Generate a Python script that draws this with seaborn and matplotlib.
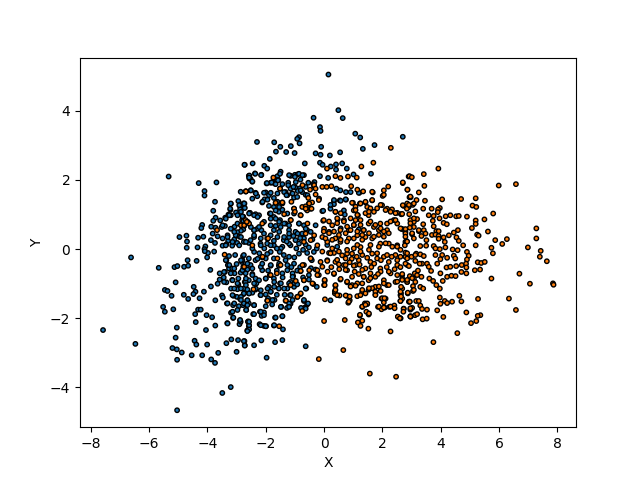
import numpy as np
import pandas as pd
import matplotlib
matplotlib.use("Agg")
import matplotlib.pyplot as plt
import seaborn as sns

# values, (x, y)
blue_points = [
(-5.33,2.10),(-4.30,1.91),(-3.69,1.93),(-4.10,1.68),(-4.10,1.55),(-3.74,1.37),(-3.80,1.11),(-2.72,2.44),(-2.58,2.12),(-2.56,2.04),
(-2.86,1.66),(-3.20,1.31),(-2.94,1.39),(-2.73,1.32),(-2.88,1.24),(-2.73,1.20),(-2.88,1.15),(-3.21,1.14),(-3.02,1.06),(-2.56,1.05),
(-3.28,1.00),(-3.20,0.98),(-3.39,0.91),(-3.72,0.91),(-3.80,0.82),(-3.56,0.83),(-2.77,0.94),(-2.81,0.84),(-4.18,0.70),(-4.21,0.61),
(-3.87,0.65),(-3.72,0.62),(-3.51,0.64),(-3.40,0.67),(-3.07,0.65),(-2.77,0.57),(-2.85,0.53),(-2.98,0.49),(-3.82,0.45),(-3.65,0.37),
(-4.96,0.35),(-4.72,0.39),(-4.70,0.22),(-4.71,0.04),(-4.32,0.33),(-4.14,0.36),(-3.88,0.26),(-3.74,0.18),(-3.31,0.40),(-3.29,0.24),
(-3.35,0.14),(-3.48,0.10),(-3.03,0.40),(-2.90,0.36),(-3.08,0.28),(-2.98,0.18),(-2.73,0.22),(-2.58,0.18),(-3.15,0.10),(-4.07,0.08),
(-4.34,0.05),(-4.10,0.00),
(-6.62,-0.24),(-5.67,-0.54),(-5.13,-0.52),(-5.03,-0.49),(-4.80,-0.51),(-4.66,-0.48),(-4.68,-0.32),(-4.37,-0.34),(-3.90,-0.60),(-5.09,-0.96),
(-4.47,-1.09),(-4.41,-1.23),(-4.48,-1.30),(-4.12,-1.23),(-3.88,-1.08),(-3.65,-1.00),(-5.46,-1.18),(-5.37,-1.21),(-5.23,-1.35),(-4.81,-1.32),
(-4.66,-1.44),(-4.27,-1.42),(-3.73,-1.48),(-3.50,-1.34),(-3.47,-1.40),(-3.33,-1.57),(-5.52,-1.67),(-5.46,-1.81),(-5.17,-1.74),(-4.32,-1.75),
(-4.23,-1.75),(-4.42,-1.88),(-4.03,-1.91),(-3.84,-1.97),(-4.40,-2.11),(-3.73,-2.21),(-3.32,-2.14),(-5.05,-2.27),(-4.05,-2.34),(-7.58,-2.34),
(-6.47,-2.74),(-5.09,-2.56),(-4.44,-2.65),(-4.38,-2.76),(-4.01,-2.76),(-5.20,-2.86),(-5.05,-2.90),(-4.88,-2.99),(-5.04,-3.20),(-4.54,-3.07),
(-4.18,-3.07),(-3.63,-3.00),(-3.87,-3.19),(-3.74,-3.29),(-3.35,-2.72),(-3.18,-2.61),(-2.95,-2.63),(-2.73,-2.66),(-2.72,-2.78),(-3.00,-2.97),
(-3.20,-3.99),(-3.49,-4.16),(-5.04,-4.66),(-2.88,-2.06),(-2.90,-2.17),(-2.60,-2.09),(-2.58,-2.23),(-2.63,-2.35),(-3.12,-1.99),(-3.19,-1.84),
(-3.12,-1.62),(-2.92,-1.65),(-2.67,-1.76),(-2.99,-1.38),(-2.76,-1.30),(-2.88,-1.44),(-2.63,-1.48),(-2.78,-1.62),(-2.58,-1.57),(-3.19,-1.14),
(-2.97,-1.16),(-2.75,-1.14),(-2.58,-1.28),(-3.11,-1.35),(-3.35,-0.96),(-3.15,-0.89),(-2.94,-1.02),(-2.72,-0.95),(-2.58,-0.90),(-2.94,-0.85),
(-3.58,-0.70),(-3.40,-0.66),(-3.44,-0.82),(-3.58,-0.88),(-3.07,-0.70),(-2.86,-0.68),(-2.63,-0.59),(-3.26,-0.56),(-3.35,-0.32),(-3.30,-0.46),
(-3.15,-0.56),(-3.00,-0.43),(-2.82,-0.37),(-2.63,-0.42),(-2.78,-0.20),(-2.58,-0.27),(-3.05,-0.17),(-3.26,-0.20),(-4.01,-0.24),(-3.98,-0.11),
(-3.77,-0.07),(-4.09,-0.06),
(0.15,5.05),(0.49,4.02),(0.64,3.79),(-0.36,3.80),(-0.14,3.53),(-0.12,3.42),(1.07,3.34),(1.24,3.23),(2.70,3.25),(1.73,3.01),
(1.33,2.90),(0.55,2.80),(0.20,2.71),(-0.10,2.96),(-0.12,2.73),(-0.29,2.77),(-2.30,3.10),(-1.71,3.09),(-1.50,2.96),(-1.65,2.82),
(-1.30,2.81),(-1.14,2.98),(-1.01,2.78),(-0.86,3.24),(-0.92,3.19),(-0.84,3.06),(-1.86,2.61),(-0.66,2.48),(-2.73,2.44),(-2.45,2.48),
(-2.05,2.41),(-1.95,2.33),(-0.14,2.50),(-0.05,2.44),(0.23,2.39),(0.41,2.45),(0.62,2.48),(0.41,2.30),(0.78,2.33),(-2.56,2.13),
(-2.37,2.19),(-2.52,2.03),(-2.46,1.95),(-2.15,2.15),(-1.49,2.24),(-1.60,2.11),(-1.57,2.00),(-1.15,2.12),(-1.00,2.15),(-0.91,2.16),
(-0.69,2.14),(-0.81,2.01),(-0.14,2.11),(0.14,2.06),(1.01,2.16),(1.61,2.18),(-1.97,1.90),(-1.83,1.92),(-1.70,1.90),(-1.43,1.88),
(-1.23,1.92),(-0.97,1.94),(-0.54,1.92),(-0.33,1.94),(-0.37,1.88),(-2.52,1.70),(-2.35,1.63),(-2.29,1.53),(-2.00,1.64),(-1.89,1.56),
(-1.72,1.48),(-2.04,1.44),(-2.12,1.35),(-1.32,1.65),(-1.15,1.75),(-0.98,1.78),(-0.83,1.76),(-0.63,1.80),(-1.26,1.56),(-1.09,1.61),
(-0.90,1.68),(-0.75,1.65),(-0.63,1.57),(-1.03,1.49),(-0.92,1.51),(0.42,1.75),(0.56,1.70),(0.75,1.65),(0.91,1.65),(1.21,1.63),
(0.34,1.39),(0.54,1.41),(0.75,1.43),(0.22,1.17),(0.34,1.30),(-0.06,1.10),(0.68,1.12),(0.71,1.00),
(-2.77,1.32),(-2.72,1.19),(-2.80,0.95),(-2.54,1.05),(-2.35,1.01),(-2.23,0.98),(-2.40,0.55),(-2.29,0.59),(-2.15,0.55),(-2.52,0.26),
(-2.75,0.21),(-2.77,0.81),(-2.40,0.35),(-2.06,0.45),(-1.72,1.22),(-1.89,1.25),(-1.60,1.37),(-1.86,1.03),(-1.55,1.08),(-1.43,1.14),
(-1.72,0.93),(-1.51,0.84),(-1.83,0.69),(-1.66,0.67),(-1.49,0.64),(-1.32,0.74),(-1.03,1.17),(-1.03,1.03),(-0.86,0.74),(-0.69,0.69),
(-1.20,0.55),(-0.98,0.50),(-0.75,0.45),(-1.60,0.35),(-1.38,0.26),(-1.20,0.35),(-2.18,0.16),(-1.95,0.16),(-1.72,0.11),(-1.43,0.07),
(-1.15,0.11),(-0.86,0.16),(-0.63,0.13),(-0.40,0.28),(-0.98,0.26),(-1.72,0.55),(-0.58,0.55),
(-1.97,-3.14),(-0.63,-2.81),(-1.43,-2.63),(-1.68,-2.69),(-2.15,-2.64),(-2.40,-2.78),(-2.75,-2.66),(-2.72,-2.79),(-2.21,-2.17),(-2.06,-2.22),
(-1.99,-2.23),(-1.72,-2.21),(-1.41,-2.32),(-2.57,-2.32),(-2.63,-2.37),(-2.61,-2.10),(-2.57,-2.20),(-1.68,-1.98),(-1.43,-1.94),(-2.86,-2.10),
(-2.43,-1.88),(-2.20,-1.81),(-2.06,-1.83),(-2.14,-1.93),(-2.67,-1.76),(-2.40,-1.62),(-2.75,-1.57),(-2.63,-1.48),(-1.70,-1.47),(-1.78,-1.60),
(-2.00,-1.65),(-1.47,-1.67),(-1.27,-1.70),(-1.15,-1.58),(-1.17,-1.33),(-0.69,-1.50),(-0.58,-1.60),(-0.66,-1.69),(-0.79,-1.70),(-0.61,-1.14),
(-0.25,-1.09),(-1.03,-1.09),(-1.26,-1.14),(-1.55,-1.14),(-1.51,-0.99),(-1.89,-1.09),(-2.18,-1.33),(-2.00,-1.31),(-2.46,-1.26),(-2.75,-1.28),
(-2.63,-1.17),(-2.35,-1.17),(-2.32,-0.99),(-2.69,-0.95),(-1.83,-1.23),(-0.52,-0.75),(-0.52,-0.88),(-0.29,-0.59),(-1.06,-0.78),(-1.15,-0.95),
(-1.01,-0.99),(-1.43,-0.70),(-1.72,-0.85),(-2.00,-0.85),(-2.46,-0.72),(-2.35,-0.85),(-2.69,-0.70),(-2.80,-0.61),(-2.12,-0.61),(-1.83,-0.48),
(-1.55,-0.48),(-1.26,-0.46),(-1.03,-0.42),(-2.52,-0.46),(-2.80,-0.32),(-2.35,-0.32),(-2.00,-0.27),(-1.72,-0.27),(-1.38,-0.17),(-1.20,-0.22),
(-0.86,-0.13),(-0.58,-0.11),(-0.35,-0.08),(-1.83,-0.08),(-2.40,-0.08),(-2.75,-0.17),(0.22,-1.48),
# second pass, dense middle
(-2.57,2.07),(-2.36,2.18),(-2.46,1.96),(-2.16,2.14),(-1.96,1.91),(-1.80,1.93),(-1.66,1.88),(-1.51,2.18),(-1.58,1.99),(-1.20,2.14),
(-1.00,2.09),(-0.86,2.18),(-0.74,2.14),(-1.23,1.85),(-1.05,1.80),(-1.37,1.65),(-1.29,1.56),(-1.08,1.61),(-1.60,1.61),(-1.83,1.63),
(-2.51,1.70),(-2.34,1.61),(-2.46,1.46),(-2.06,1.63),(-2.11,1.37),(-1.94,1.43),(-1.66,1.12),(-1.83,1.03),(-1.54,1.22),(-1.43,1.32),
(-1.26,1.03),(-1.66,0.88),(-1.83,0.88),(-1.54,0.79),(-1.37,0.74),(-1.20,0.69),(-2.57,1.03),(-2.40,0.98),(-2.28,0.93),(-2.06,0.79),
(-2.23,0.64),(-2.40,0.55),(-2.51,0.64),(-2.91,1.27),(-2.74,1.32),(-3.20,1.32),(-3.22,1.17),(-2.85,1.08),(-2.97,0.98),(-3.25,0.98),
(-3.37,0.88),(-3.48,0.69),(-3.20,0.59),(-2.97,0.74),(-3.08,0.50),(-2.85,0.35),(-3.31,0.35),(-3.48,0.31),(-3.14,0.21),(-2.91,0.11),
(-3.37,0.11),(-2.68,0.21),(-2.40,0.40),(-2.17,0.31),(-1.83,0.40),(-1.54,0.50),(-1.37,0.35),(-1.20,0.45),(-0.91,0.45),(-0.69,0.31),
(-0.86,0.74),(-0.63,0.59),(-0.46,0.50),(-0.29,0.69),(-0.80,1.70),(-0.57,1.56),(-0.17,1.46),(-2.17,0.11),(-1.83,0.11),(-2.46,0.02),
(-1.48,0.02),(-1.20,0.16),
(-3.37,-0.32),(-3.25,-0.46),(-3.08,-0.56),(-3.20,-0.70),(-2.85,-0.32),(-2.63,-0.42),(-2.46,-0.56),(-2.17,-0.51),(-1.83,-0.46),(-1.54,-0.42),
(-1.26,-0.61),(-1.08,-0.70),(-3.43,-0.66),(-3.43,-0.95),(-3.14,-0.90),(-2.97,-0.99),(-2.68,-0.85),(-2.46,-0.75),(-2.23,-0.90),(-2.00,-0.85),
(-1.71,-0.95),(-1.48,-0.99),(-1.08,-0.80),(-3.08,-1.14),(-2.85,-1.14),(-2.68,-1.04),(-2.40,-0.99),(-2.34,-1.14),(-2.17,-1.19),(-1.94,-1.14),
(-1.71,-1.09),(-1.37,-1.14),(-1.20,-0.99),(-3.14,-1.33),(-2.85,-1.38),(-2.57,-1.28),(-2.17,-1.33),(-1.83,-1.23),(-1.14,-1.33),(-0.63,-1.14),
(-3.31,-1.57),(-3.08,-1.57),(-2.85,-1.47),(-2.63,-1.62),(-2.40,-1.62),(-1.77,-1.47),(-1.48,-1.67),(-1.20,-1.57),(-1.08,-1.47),(-0.69,-1.47),
(-0.55,-1.57),(-3.14,-1.81),(-2.97,-1.76),(-2.40,-1.88),(-2.17,-1.81),(-2.06,-1.91),(-1.20,-1.67),(-0.63,-1.72),(-3.31,-2.15),(-2.88,-2.05),
(-2.57,-2.10),(-2.17,-2.20),(-2.00,-2.23),(-1.71,-2.20),(-1.66,-1.98),(-1.43,-1.94),(-3.11,-1.98),
(-0.03,1.11),(0.34,1.42),(0.22,1.28),(0.57,1.40),(0.74,1.44),(1.19,1.63),(0.57,0.60),(1.19,0.57),(0.11,0.12),(0.45,0.07),
# third pass
(-1.95,-0.14),(-1.62,-0.62),(-1.32,-0.32),(-1.02,-0.24),(-0.82,-0.52),(-1.72,0.24),(-1.52,-0.08),(-1.12,-0.52),(-0.95,0.02),(-0.72,-0.02),
(-2.22,-0.12),(-2.12,-0.42),(-1.92,-0.62),(-1.42,-0.82),(-0.92,-0.62),(-0.72,-0.82),(-1.62,0.02),(-1.28,0.22),(-1.05,0.38),(-0.82,0.32),
(-2.05,0.02),(-2.28,-0.28),(-1.35,-1.32),(-1.62,-1.32),(-1.92,-1.42),(-0.92,-1.02),(-0.42,-0.32),(-0.52,0.05),(-0.25,0.02),(-0.45,-0.55),
]

orange_points = [
(-2.68,1.67),(-2.84,0.69),(-2.73,0.68),(-2.62,0.79),(-3.67,0.55),(-3.41,-0.16),(-2.77,-0.51),
(2.29,2.93),(1.69,2.50),(1.28,2.39),(0.10,2.33),(0.39,2.11),(0.82,2.10),(1.12,2.07),(0.56,2.06),(2.90,2.10),(2.70,1.91),(2.86,1.72),
(2.20,1.81),(2.05,1.70),(2.01,1.54),(1.67,1.64),(2.93,1.50),(-1.72,2.05),(-1.51,1.75),(-2.69,1.67),(-0.34,1.82),(-0.06,1.80),(0.09,1.80),(0.25,1.82),
(0.93,1.82),(1.14,1.72),(1.34,1.67),(-0.29,1.58),(-0.18,1.42),(-0.54,1.48),(-1.66,1.34),(-1.43,1.35),(-1.12,1.37),(-0.75,1.22),
(-0.63,1.24),(-0.52,1.32),(-0.41,1.35),(-0.58,1.12),(-0.46,1.17),(-0.81,0.98),(0.99,1.34),(1.23,1.32),(1.42,1.35),(1.65,1.41),
(1.02,1.12),(1.16,0.98),(1.08,0.84),(1.48,1.22),(1.71,1.08),(1.53,0.98),(1.99,1.27),(2.16,1.17),(2.33,1.15),(2.51,1.05),
(2.65,1.01),(2.73,1.25),(2.90,1.22),(0.39,1.08),(0.47,0.86),(0.68,0.84),(0.28,0.69),(-0.03,0.82),(0.00,0.59),(0.56,0.55),
(0.85,0.55),(0.17,0.50),(-0.06,0.35),(0.39,0.31),(0.56,0.21),(0.11,0.21),(-0.23,0.11),(1.02,0.69),(1.36,0.55),(1.53,0.74),
(1.88,0.55),(2.16,0.74),(2.39,0.84),(2.51,0.74),(2.68,0.58),(2.79,0.50),(2.16,0.55),(1.71,0.64),(1.93,0.74),(1.14,0.40),
(1.42,0.35),(1.65,0.31),(1.93,0.16),(2.22,0.16),(2.51,0.11),(2.79,0.21),(0.85,0.31),(1.25,0.06),(-2.69,0.84),(-2.57,0.74),
(-2.80,0.69),(-2.12,0.74),(-1.15,0.84),(-2.46,0.11),(-1.95,0.31),
(1.57,-3.60),(2.47,-3.69),(-0.18,-3.18),(0.66,-2.92),(0.00,-2.08),(0.71,-2.05),(1.16,-2.12),(1.25,-2.22),(1.52,-2.30),(2.28,-2.38),
(1.31,-2.07),(1.23,-1.92),(-1.54,-2.23),(-1.95,-1.49),(-1.32,-1.49),(-0.75,-1.79),(-0.92,-1.38),(-0.81,-1.30),(0.03,-1.45),(0.83,-1.55),
(0.88,-1.48),(0.77,-1.35),(0.53,-1.34),(0.37,-1.28),(0.37,-1.22),(0.00,-1.04),(0.02,-0.92),(1.40,-1.57),(1.48,-1.59),(1.31,-1.67),
(1.45,-1.81),(1.53,-1.89),(1.85,-1.67),(1.97,-1.74),(2.08,-1.69),(2.24,-1.67),(2.41,-1.63),(2.54,-1.96),(2.62,-2.00),(2.73,-1.72),
(2.91,-1.52),(2.96,-1.94),(2.05,-1.54),(1.97,-1.43),(2.11,-1.43),(2.62,-1.50),(2.64,-1.28),(1.14,-1.36),(1.31,-1.23),(1.53,-1.17),
(1.76,-1.31),(0.79,-0.96),(0.96,-1.04),(1.14,-0.99),(0.39,-1.06),(0.56,-0.88),(0.34,-0.72),(-0.18,-0.75),(-0.37,-1.01),(-0.69,-0.90),
(-0.81,-0.64),(-0.23,-0.61),(-0.12,-0.37),(-0.69,-0.46),(-0.46,-0.27),(0.11,-0.32),(0.39,-0.37),(0.68,-0.46),(0.79,-0.61),(1.08,-0.46),
(1.19,-0.72),(1.36,-0.80),(1.53,-0.90),(1.76,-1.09),(2.05,-0.90),(2.16,-1.04),(2.45,-0.95),(2.68,-1.14),(2.51,-0.75),(2.85,-0.95),
(2.68,-0.75),(2.28,-0.70),(1.93,-0.56),(1.59,-0.70),(0.17,-0.11),(0.34,-0.11),(0.79,-0.13),(0.96,-0.13),(1.19,-0.32),(1.42,-0.56),
(1.65,-0.13),(1.82,-0.27),(2.05,-0.22),(2.22,-0.37),(2.51,-0.32),(2.79,-0.22),(2.85,-0.46),(2.51,-0.46),(1.59,-0.37),(1.31,-0.17),
(-2.12,-0.24),(-1.49,-0.46),(-1.86,-0.75),(-1.15,-1.04),
(3.92,2.33),(3.42,2.17),(2.93,2.11),(3.01,2.08),(2.70,1.93),(5.99,1.84),(6.58,1.88),(3.44,1.83),(2.86,1.72),(3.25,1.64),
(2.97,1.50),(3.17,1.42),(3.46,1.40),(4.05,1.44),(4.70,1.45),(5.20,1.47),(5.09,1.26),(5.22,1.22),(2.70,1.27),(2.85,1.32),
(3.04,1.28),(3.40,1.17),(3.69,1.17),(3.97,1.19),(3.91,1.15),(3.90,1.07),(2.84,1.17),(3.13,1.09),(2.65,1.01),(2.92,1.01),
(3.59,0.98),(3.76,0.96),(4.17,0.95),(4.33,0.98),(4.53,0.95),(4.62,0.96),(4.90,0.94),(5.80,1.03),(5.50,0.86),(3.19,0.87),
(3.08,0.79),(2.96,0.84),(3.73,0.82),(3.96,0.89),(4.10,0.76),(4.21,0.72),(5.20,0.83),(5.20,0.73),(3.40,0.72),(3.76,0.66),
(5.07,0.61),(4.59,0.55),(4.45,0.48),(7.28,0.60),(3.08,0.64),(2.94,0.62),(2.79,0.58),(2.65,0.59),(3.25,0.52),(3.42,0.55),
(3.48,0.45),(3.85,0.52),(3.93,0.52),(5.62,0.51),(5.25,0.42),(5.30,0.39),(2.79,0.45),(3.02,0.43),(3.08,0.31),(3.34,0.38),
(3.70,0.41),(3.82,0.42),(3.93,0.38),(4.10,0.34),(4.28,0.40),(3.93,0.30),(4.14,0.21),(4.54,0.34),(4.62,0.24),(5.87,0.26),
(6.27,0.29),(6.11,0.15),(7.28,0.31),(2.83,0.23),(2.77,0.11),(3.51,0.26),(3.30,0.09),(3.50,0.10),(3.76,0.09),(3.82,0.02),
(4.16,0.05),(4.41,-0.01),(4.58,-0.03),(4.77,0.11),(5.20,0.11),(5.74,0.04),(5.79,-0.12),(6.99,0.05),(7.43,-0.05),(7.40,-0.22),
(7.64,-0.35),(2.79,-0.10),(2.62,-0.22),(2.85,-0.27),(3.00,-0.22),(3.16,-0.13),(3.30,-0.15),(3.42,-0.20),(3.82,-0.17),(3.97,0.00),
(4.05,-0.17),(4.22,-0.25),(3.99,-0.29),(4.45,-0.19),(4.50,-0.27),(4.90,-0.08),(4.96,-0.19),(4.90,-0.30),(5.27,-0.38),(5.39,-0.40),
(5.51,-0.37),(2.79,-0.42),(2.91,-0.49),(3.13,-0.34),(3.36,-0.42),(3.53,-0.42),(3.59,-0.51),(3.88,-0.42),(4.20,-0.53),(4.33,-0.51),
(4.53,-0.49),(4.72,-0.46),(4.87,-0.42),(4.88,-0.53),(3.67,-0.63),(4.71,-0.66),(4.88,-0.70),(5.17,-0.61),(5.35,-0.59),(2.68,-0.72),
(3.11,-0.70),(2.94,-0.78),(3.34,-0.80),(3.99,-0.70),(4.22,-0.80),(4.37,-0.77),(4.51,-0.78),(4.07,-0.92),(3.61,-0.85),(3.74,-0.92),
(6.70,-0.71),(5.74,-0.85),(7.06,-1.00),(7.85,-0.99),(7.87,-1.03),(2.68,-0.85),(2.85,-0.95),(3.08,-0.85),(3.13,-0.95),(3.85,-1.04),
(3.97,-1.14),(3.30,-1.09),(3.40,-1.14),(3.05,-1.07),(3.05,-1.21),(2.87,-1.28),(2.64,-1.09),(2.62,-1.33),(2.68,-1.43),(3.97,-1.40),
(4.64,-1.35),(5.28,-1.44),(6.34,-1.43),(4.71,-1.51),(4.39,-1.52),(4.14,-1.50),(4.22,-1.56),(3.99,-1.58),(2.93,-1.52),(3.16,-1.50),
(3.30,-1.63),(3.36,-1.73),(3.53,-1.75),(3.88,-1.77),(3.02,-1.70),(2.96,-1.75),(2.73,-1.73),(2.72,-1.81),(2.62,-2.00),(6.58,-1.76),
(4.88,-1.83),(5.36,-1.91),(5.27,-1.93),(4.09,-1.96),(3.12,-1.91),(2.97,-1.95),(3.38,-2.03),(3.52,-2.01),(5.22,-2.08),(5.04,-2.14),
(4.57,-2.43),(3.75,-2.69),
# second pass, dense middle
(-1.74,2.07),(-2.68,1.67),(-2.85,0.69),(-2.74,0.69),(-2.65,0.79),(-1.51,1.75),(-1.66,1.34),(-1.43,1.35),(-1.37,1.01),(-1.92,0.31),
(-1.03,1.17),(-1.00,1.08),(-0.80,0.98),(-0.63,1.17),(-0.51,1.32),(-0.43,1.17),(-0.34,1.85),(-0.74,1.85),(-0.48,1.72),(-0.29,1.75),
(-0.57,0.74),(-1.14,0.84),(-0.63,0.45),(-0.34,0.40),(-0.69,0.21),(-0.46,0.26),
(-2.74,-0.51),(-2.11,-0.22),(-1.60,-0.27),(-1.83,-0.75),(-1.62,-0.70),(-0.80,-0.63),(-0.69,-0.90),(-0.97,-0.92),(-0.40,-0.99),(-0.51,-0.61),
(-0.23,-0.75),(-0.74,-0.46),(-0.46,-0.27),(-0.80,-1.28),(-0.91,-1.38),(-1.31,-1.49),(-1.94,-1.49),(-2.42,-1.16),
(0.96,1.34),(1.08,1.23),(1.25,1.32),(1.42,1.37),(1.65,1.42),(1.59,1.18),(1.42,1.04),(1.54,1.08),(1.82,1.18),(1.94,1.28),
(2.11,1.13),(2.28,1.08),(2.45,1.04),(2.68,1.02),(2.91,1.28),(3.08,1.32),(2.96,1.52),(2.05,1.57),(1.65,1.66),(1.08,1.13),
(1.14,0.99),(0.91,0.89),(1.25,0.84),(0.57,1.04),(0.39,1.08),(0.45,0.89),(-0.01,0.84),(0.17,0.80),(0.45,0.75),(0.68,0.80),
(0.79,0.65),(1.02,0.70),(1.25,0.70),(1.36,0.55),(1.59,0.80),(1.76,0.70),(1.94,0.60),(2.05,0.51),(2.22,0.46),(2.28,0.80),
(2.45,0.84),(2.62,0.60),(2.96,0.75),(3.08,0.89),(3.25,0.55),(3.02,0.46),(2.79,0.36),(2.85,0.22),(-0.01,0.51),(0.17,0.46),
(0.34,0.51),(0.51,0.41),(0.74,0.46),(0.91,0.55),(1.14,0.51),(1.31,0.41),(1.54,0.46),(1.71,0.36),(1.88,0.41),(2.05,0.36),
(0.05,0.31),(0.28,0.27),(0.57,0.27),(0.79,0.22),(1.02,0.31),(1.14,0.12),(1.31,0.27),(1.59,0.12),(1.88,0.07),(2.11,0.17),
(2.34,0.07),(2.51,0.07),(2.62,-0.02),(2.85,-0.12),(3.13,-0.17),(-0.06,-0.07),(0.22,-0.12),(0.51,-0.07),(0.79,-0.02),(1.02,0.02),
(1.25,-0.07),(1.54,-0.02),(1.82,-0.12),(2.16,-0.17),(2.45,-0.17),(0.28,0.02),
(0.11,-0.34),(0.45,-0.31),(0.74,-0.27),(-0.06,-0.51),(0.34,-0.70),(0.57,-0.86),(0.74,-0.46),(0.51,-0.44),(0.74,-0.60),(1.02,-0.48),
(1.31,-0.60),(1.36,-0.80),(0.02,-0.89),(0.02,-1.04),(0.39,-1.04),(0.79,-0.94),(0.96,-0.80),(0.91,-1.08),(1.08,-1.06),(1.31,-0.99),
(1.59,-0.84),(1.76,-0.80),(1.94,-0.65),(2.22,-0.65),(1.65,-1.13),(1.88,-1.08),(2.05,-0.99),(2.22,-1.04),(2.51,-0.94),(2.68,-0.89),
(2.85,-0.89),(3.02,-0.84),(3.19,-0.75),(1.54,-1.13),(1.31,-1.18),(0.39,-1.18),(0.45,-1.33),(0.74,-1.34),(0.88,-1.37),(0.85,-1.52),
(1.25,-1.33),(1.42,-1.28),(1.76,-1.23),(1.94,-1.21),(1.76,-1.33),(2.62,-1.23),(2.87,-1.26),(3.08,-1.18),(2.64,-1.37),(2.62,-1.50),
(1.99,-1.42),(2.07,-1.42),(1.48,-1.57),(1.31,-1.66),(1.42,-1.61),(1.88,-1.66),(2.05,-1.69),(2.28,-1.66),(2.42,-1.71),(2.94,-1.52),
(3.25,-1.50),(2.96,-1.71),(3.19,-1.88),(2.96,-1.95),(2.53,-1.95),(2.60,-2.00),(1.23,-1.90),(1.54,-1.86),
# third pass
(0.62,-0.18),(0.95,-0.28),(1.12,-0.22),(1.48,-0.25),(1.72,-0.42),(1.95,-0.32),(2.32,-0.22),(2.62,-0.52),(1.22,-0.45),(0.88,-0.38),
(0.25,-0.52),(0.52,-0.58),(1.62,-0.52),(1.85,-0.72),(2.42,-0.58),(2.15,-0.52),(1.05,-0.65),(0.12,-0.65),(3.28,-0.42),(3.22,-0.62),
]

blue = np.array(blue_points)
orange = np.array(orange_points)
df = pd.DataFrame({
    "X": np.r_[blue[:, 0], orange[:, 0]],
    "Y": np.r_[blue[:, 1], orange[:, 1]],
    "label": ["a"] * len(blue) + ["b"] * len(orange),
})

fig, ax = plt.subplots()
sns.scatterplot(data=df, x="X", y="Y", hue="label", palette=["#1f77b4", "#ff7f0e"],
                s=10, edgecolor="k", linewidth=1, legend=False, ax=ax)
ax.set_xlim(-8.37, 8.64)
ax.set_ylim(-5.15, 5.54)
ax.set_xticks([-8, -6, -4, -2, 0, 2, 4, 6, 8])
ax.set_yticks([-4, -2, 0, 2, 4])
fig.savefig("out.png", dpi=100)
